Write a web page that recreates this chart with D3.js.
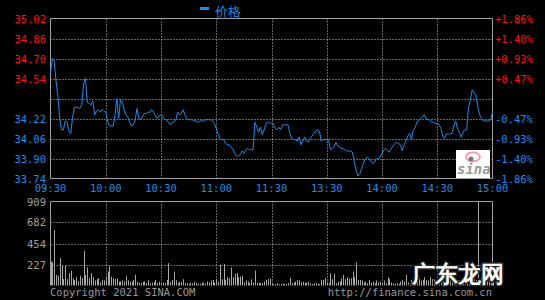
<!DOCTYPE html>
<html>
<head>
<meta charset="utf-8">
<script src="https://cdn.jsdelivr.net/npm/d3@7"></script>
<style>
  html, body { margin: 0; padding: 0; background: #000; }
  svg { display: block; }
  text { font-family: "DejaVu Sans Mono", "Liberation Mono", monospace; }
</style>
</head>
<body>
<div id="chart"></div>
<script>
// intraday price, one value per minute 09:30-11:30, 13:01-15:00
let prices = [
  34.58, 34.70, 34.68, 34.52, 34.40, 34.22, 34.13, 34.13, 34.20, 34.19,
  34.12, 34.10, 34.23, 34.31, 34.31, 34.31, 34.30, 34.33, 34.50, 34.54,
  34.35, 34.34, 34.33, 34.36, 34.25, 34.28, 34.29, 34.27, 34.29, 34.28,
  34.27, 34.20, 34.16, 34.16, 34.16, 34.24, 34.38, 34.22, 34.37, 34.35,
  34.29, 34.25, 34.23, 34.19, 34.16, 34.17, 34.21, 34.30, 34.22, 34.21,
  34.24, 34.26, 34.26, 34.27, 34.27, 34.29, 34.27, 34.24, 34.22, 34.24,
  34.25, 34.24, 34.21, 34.21, 34.19, 34.17, 34.19, 34.19, 34.21, 34.27,
  34.25, 34.26, 34.29, 34.25, 34.22, 34.21, 34.21, 34.21, 34.20, 34.20,
  34.19, 34.20, 34.20, 34.20, 34.21, 34.21, 34.21, 34.21, 34.20, 34.18,
  34.14, 34.10, 34.06, 34.05, 34.05, 34.02, 34.01, 34.01, 33.99, 33.98,
  33.94, 33.92, 33.92, 33.93, 33.96, 33.94, 33.97, 33.98, 33.97, 33.97,
  33.97, 34.19, 34.15, 34.11, 34.15, 34.09, 34.13, 34.18, 34.19, 34.19,
  34.18, 34.18, 34.14, 34.13, 34.15, 34.13, 34.17, 34.17, 34.17, 34.17,
  34.10, 34.06, 34.05, 34.05, 34.04, 34.07, 34.01, 34.04, 34.07, 34.04,
  34.03, 34.06, 34.08, 34.10, 34.12, 34.13, 34.12, 34.04, 34.05, 34.05,
  34.05, 34.05, 33.97, 33.98, 33.99, 34.03, 34.00, 33.99, 33.98, 33.98,
  33.97, 33.96, 33.96, 33.96, 33.95, 33.87, 33.80, 33.76, 33.78, 33.82,
  33.87, 33.90, 33.91, 33.90, 33.88, 33.86, 33.87, 33.90, 33.89, 33.91,
  33.94, 33.97, 33.98, 33.96, 33.95, 33.98, 34.00, 34.02, 34.03, 34.02,
  34.01, 33.96, 34.01, 34.04, 34.08, 34.10, 34.05, 34.13, 34.15, 34.19,
  34.21, 34.22, 34.23, 34.25, 34.22, 34.21, 34.21, 34.19, 34.19, 34.18,
  34.18, 34.17, 34.14, 34.08, 34.06, 34.10, 34.09, 34.10, 34.10, 34.16,
  34.20, 34.14, 34.11, 34.07, 34.11, 34.13, 34.13, 34.31, 34.37, 34.45,
  34.43, 34.40, 34.32, 34.25, 34.22, 34.20, 34.20, 34.20, 34.20, 34.21,
  34.27
];

// volume per minute (hands)
let volumes = [
  260, 250, 602, 115, 105, 296, 213, 69, 213, 70,
  133, 159, 80, 60, 90, 45, 105, 80, 375, 115,
  195, 80, 133, 90, 55, 68, 80, 35, 60, 55,
  90, 150, 213, 95, 80, 70, 75, 40, 45, 55,
  42, 105, 55, 40, 40, 60, 115, 40, 30, 25,
  40, 45, 25, 55, 25, 30, 35, 60, 25, 40,
  18, 30, 25, 60, 242, 40, 60, 151, 55, 25,
  40, 35, 68, 25, 25, 18, 30, 25, 40, 25,
  18, 20, 32, 25, 18, 43, 32, 54, 61, 32,
  68, 43, 224, 68, 234, 61, 90, 79, 195, 90,
  126, 133, 90, 97, 104, 32, 54, 43, 25, 68,
  32, 162, 25, 32, 25, 25, 43, 61, 68, 75,
  18, 14, 14, 25, 14, 18, 22, 14, 18, 25,
  83, 25, 32, 43, 61, 54, 32, 40, 32, 32,
  40, 22, 18, 25, 25, 18, 14, 61, 61, 79,
  25, 25, 133, 68, 126, 25, 40, 43, 75, 115,
  68, 90, 75, 79, 151, 90, 249, 61, 61, 54,
  32, 40, 25, 61, 32, 43, 25, 54, 32, 40,
  25, 54, 25, 90, 68, 32, 22, 18, 25, 18,
  43, 61, 43, 115, 32, 25, 61, 40, 43, 61,
  68, 54, 61, 90, 61, 54, 90, 68, 68, 54,
  61, 43, 54, 61, 79, 61, 54, 68, 61, 54,
  68, 54, 54, 68, 61, 61, 68, 54, 61, 54,
  68, 61, 909, 54, 90, 68, 61, 68, 54, 61,
  68
];

let prevClose = 34.38;
let priceTicks = [35.02, 34.86, 34.70, 34.54, 34.38, 34.22, 34.06, 33.90, 33.74];
let priceLabels = ["35.02", "34.86", "34.70", "34.54", "", "34.22", "34.06", "33.90", "33.74"];
let pctLabels = ["+1.86%", "+1.40%", "+0.93%", "+0.47%", "", "-0.47%", "-0.93%", "-1.40%", "-1.86%"];
let timeIdx = [0, 30, 60, 90, 120, 150, 180, 210, 240];
let timeLabels = ["09:30", "10:00", "10:30", "11:00", "11:30", "13:30", "14:00", "14:30", "15:00"];
let volTicks = [909, 682, 454, 227];

const W = 545, H = 300;
const RED = "#ff1010", BLUE = "#1e8ce6", GRAY = "#a0a0a0", GRID = "#c8c8c8";

let svg = d3.select('#chart').append('svg')
    .attr('width', W).attr('height', H)
    .style('background', '#000');

let x = d3.scaleLinear().domain([0, 240]).range([50.5, 492.5]);
let y = d3.scaleLinear().domain([33.74, 35.02]).range([178.5, 18.5]);
let yv = d3.scaleLinear().domain([0, 909]).range([285.5, 201.5]);

// ---- price panel grid
let g = svg.append('g');
g.selectAll('.hgrid').data(priceTicks.slice(1, -1)).enter().append('line')
    .attr('x1', x(0)).attr('x2', x(240))
    .attr('y1', d => Math.round(y(d)) + 0.5).attr('y2', d => Math.round(y(d)) + 0.5)
    .attr('stroke', GRID).attr('stroke-dasharray', '1,2');
g.selectAll('.vgrid').data(timeIdx.slice(1, -1)).enter().append('line')
    .attr('x1', d => Math.round(x(d)) + 0.5).attr('x2', d => Math.round(x(d)) + 0.5)
    .attr('y1', y(35.02)).attr('y2', y(33.74))
    .attr('stroke', GRID).attr('stroke-dasharray', '1,2');

// frame
g.append('path')
    .attr('d', `M${x(0)},${y(35.02)}H${x(240)}V${y(33.74)}H${x(0)}Z`)
    .attr('fill', 'none').attr('stroke', GRAY);

// left / right labels
g.selectAll('.pl').data(priceTicks).enter().append('text')
    .attr('x', 46).attr('y', d => y(d) + 4)
    .attr('text-anchor', 'end').attr('font-size', 10.5)
    .attr('fill', d => d > prevClose ? RED : BLUE)
    .text((d, i) => priceLabels[i]);
g.selectAll('.pr').data(priceTicks).enter().append('text')
    .attr('x', 495).attr('y', d => y(d) + 4)
    .attr('font-size', 10.5)
    .attr('fill', d => d > prevClose ? RED : BLUE)
    .text((d, i) => pctLabels[i]);

// time labels
g.selectAll('.tl').data(timeIdx).enter().append('text')
    .attr('x', d => x(d)).attr('y', 192)
    .attr('text-anchor', 'middle').attr('font-size', 10.5)
    .attr('fill', BLUE)
    .text((d, i) => timeLabels[i]);

// sina logo box
let logo = svg.append('g');
logo.append('rect').attr('x', 456).attr('y', 150).attr('width', 34).attr('height', 28).attr('fill', '#fff');
logo.append('ellipse').attr('cx', 473).attr('cy', 157).attr('rx', 7).attr('ry', 4.5)
    .attr('fill', 'none').attr('stroke', '#f5a0a8').attr('stroke-width', 2);
logo.append('circle').attr('cx', 471).attr('cy', 159).attr('r', 2.5).attr('fill', '#777');
logo.append('text').attr('x', 457).attr('y', 174)
    .attr('font-family', 'DejaVu Sans').attr('font-style', 'italic').attr('font-weight', 'bold')
    .attr('font-size', 14).attr('fill', '#999').text('sina');

// price line
let line = d3.line()
    .x((d, i) => x(i))
    .y(d => y(d));
svg.append('path').datum(prices)
    .attr('d', line)
    .attr('fill', 'none').attr('stroke', BLUE).attr('stroke-width', 1);

// legend
svg.append('rect').attr('x', 200).attr('y', 7).attr('width', 9).attr('height', 3).attr('fill', BLUE);
svg.append('text').attr('x', 215).attr('y', 16)
    .attr('font-family', '"Noto Sans CJK SC"').attr('font-size', 13)
    .attr('fill', BLUE).text('价格');

// ---- volume panel
let v = svg.append('g');
v.selectAll('.vh').data(volTicks.slice(1)).enter().append('line')
    .attr('x1', x(0)).attr('x2', x(240))
    .attr('y1', d => Math.round(yv(d)) + 0.5).attr('y2', d => Math.round(yv(d)) + 0.5)
    .attr('stroke', GRID).attr('stroke-dasharray', '1,2');
v.selectAll('.vv').data(timeIdx.slice(1, -1)).enter().append('line')
    .attr('x1', d => Math.round(x(d)) + 0.5).attr('x2', d => Math.round(x(d)) + 0.5)
    .attr('y1', yv(909)).attr('y2', yv(0))
    .attr('stroke', GRID).attr('stroke-dasharray', '1,2');
v.append('path')
    .attr('d', `M${x(0)},${yv(0)}V${yv(909)}H${x(240)}V${yv(0)}`)
    .attr('fill', 'none').attr('stroke', GRAY);

v.selectAll('.bar').data(volumes).enter().append('line')
    .attr('x1', (d, i) => Math.round(x(i)) + 0.5).attr('x2', (d, i) => Math.round(x(i)) + 0.5)
    .attr('y1', yv(0)).attr('y2', d => yv(d))
    .attr('stroke', '#a8a8a8').attr('stroke-width', 1);

v.selectAll('.vl').data(volTicks).enter().append('text')
    .attr('x', 46).attr('y', d => yv(d) + 4)
    .attr('text-anchor', 'end').attr('font-size', 10.5)
    .attr('fill', GRAY).text(d => d);

// footer
svg.append('text').attr('x', 50).attr('y', 296)
    .attr('font-size', 10.5).attr('fill', '#999').text('Copyright 2021 SINA.COM');
svg.append('text').attr('x', 492).attr('y', 296).attr('text-anchor', 'end')
    .attr('font-size', 10.5).attr('fill', '#999').text('http://finance.sina.com.cn');

// site watermark
svg.append('text').attr('x', 412).attr('y', 282)
    .attr('font-family', '"Noto Sans CJK SC"').attr('font-weight', 'bold')
    .attr('font-size', 23).attr('fill', '#fff')
    .attr('stroke', '#222').attr('stroke-width', 3).attr('paint-order', 'stroke')
    .text('广东龙网');
</script>
</body>
</html>
